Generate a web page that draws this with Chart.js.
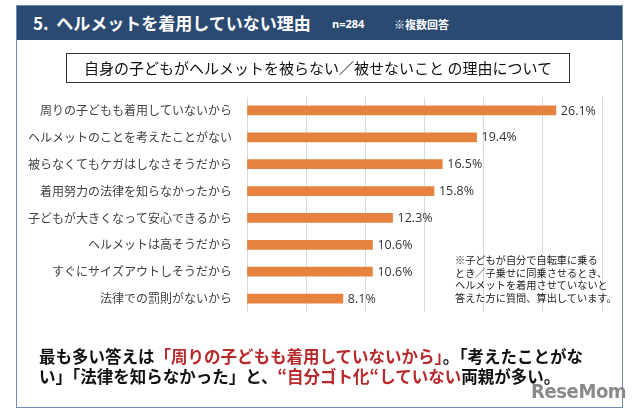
<!DOCTYPE html>
<html lang="ja">
<head>
<meta charset="utf-8">
<script src="https://cdn.jsdelivr.net/npm/chart.js@4.4.1/dist/chart.umd.min.js"></script>
<style>
  html, body { margin: 0; padding: 0; background: #ffffff; }
  body { width: 640px; height: 416px; position: relative; overflow: hidden; font-family: "Noto Sans CJK JP", "Noto Sans", sans-serif; }
  #chart { position: absolute; left: 0; top: 0; }
  .abs { position: absolute; white-space: nowrap; }
  #frame { left: 16px; top: 5px; width: 605px; height: 401px; border: 1.5px solid #6f8db5; }
  #header { left: 17px; top: 6px; width: 605px; height: 34px; background: #2a4a72; }
  #title { left: 33px; top: 6px; height: 34px; line-height: 34px; color: #fff; font-weight: bold; font-size: 17px; }
  #n { left: 332px; top: 6px; height: 34px; line-height: 36px; color: #fff; font-size: 11px; font-family: "Open Sans", "Noto Sans CJK JP", sans-serif; font-weight: bold; }
  #multi { left: 394px; top: 6px; height: 34px; line-height: 36px; color: #fff; font-size: 11px; font-weight: bold; }
  #sub { left: 66px; top: 53px; width: 502px; height: 28px; border: 1px solid #333; line-height: 28px; text-align: center; font-size: 15px; color: #111; }
  #note { left: 455px; top: 254px; font-size: 10.2px; line-height: 12.7px; color: #222; }
  #concl { left: 39px; top: 346px; font-size: 16.5px; line-height: 20px; font-weight: bold; color: #111; }
  .red { color: #b8292c; }
  #logo { left: 531px; top: 379px; font-family: "DejaVu Sans Condensed", "DejaVu Sans", sans-serif; font-weight: bold; font-size: 20px; color: #8a8a8a; letter-spacing: -0.4px; }
</style>
</head>
<body>
<canvas id="chart" width="640" height="416"></canvas>
<div class="abs" id="frame"></div>
<div class="abs" id="header"></div>
<div class="abs" id="title">5.&nbsp;&nbsp;ヘルメットを着用していない理由</div>
<div class="abs" id="n">n=284</div>
<div class="abs" id="multi">※複数回答</div>
<div class="abs" id="sub">自身の子どもがヘルメットを被らない／被せないこと の理由について</div>
<div class="abs" id="note">※子どもが自分で自転車に乗る<br>とき／子乗せに同乗させるとき、<br>ヘルメットを着用させていないと<br>答えた方に質問、算出しています。</div>
<div class="abs" id="concl">最も多い答えは<span class="red">「周りの子どもも着用していないから」</span>。「考えたことがな<br>い」「法律を知らなかった」と、<span class="red">“自分ゴト化“していない</span>両親が多い。</div>
<div class="abs" id="logo">ReseMom</div>
<script>
const categories = [
  "周りの子どもも着用していないから",
  "ヘルメットのことを考えたことがない",
  "被らなくてもケガはしなさそうだから",
  "着用努力の法律を知らなかったから",
  "子どもが大きくなって安心できるから",
  "ヘルメットは高そうだから",
  "すぐにサイズアウトしそうだから",
  "法律での罰則がないから"
];
const values = [26.1, 19.4, 16.5, 15.8, 12.3, 10.6, 10.6, 8.1];
const valueLabels = ["26.1%", "19.4%", "16.5%", "15.8%", "12.3%", "10.6%", "10.6%", "8.1%"];
const axisMin = 0, axisMax = 30, axisStep = 5;

const valueLabelPlugin = {
  id: "valueLabels",
  afterDatasetsDraw(chart) {
    const ctx = chart.ctx;
    const meta = chart.getDatasetMeta(0);
    ctx.save();
    ctx.font = "12.5px 'Open Sans', 'Liberation Sans', sans-serif";
    ctx.fillStyle = "#333333";
    ctx.textAlign = "left";
    ctx.textBaseline = "middle";
    meta.data.forEach((bar, i) => {
      ctx.fillText(valueLabels[i], bar.x + 5, bar.y + 0.5);
    });
    ctx.restore();
  }
};

new Chart(document.getElementById("chart"), {
  type: "bar",
  data: {
    labels: categories,
    datasets: [{
      data: values,
      backgroundColor: "#e5823f",
      borderWidth: 0,
      barThickness: 9
    }]
  },
  options: {
    indexAxis: "y",
    responsive: false,
    animation: false,
    devicePixelRatio: 1,
    layout: { padding: { left: 0, top: 97, right: 38, bottom: 104 } },
    plugins: { legend: { display: false }, tooltip: { enabled: false } },
    scales: {
      x: {
        min: axisMin, max: axisMax,
        ticks: { display: false, stepSize: axisStep },
        grid: { color: "#d9d9d9", lineWidth: 1, drawTicks: false },
        border: { display: false },
        afterFit(scale) { scale.height = 0; }
      },
      y: {
        grid: { display: false },
        border: { display: false },
        ticks: {
          autoSkip: false,
          padding: 7,
          color: "#404040",
          font: { family: "'Noto Sans CJK JP', sans-serif", size: 12 }
        },
        afterFit(scale) { scale.width = 247; }
      }
    }
  },
  plugins: [valueLabelPlugin]
});
</script>
</body>
</html>
